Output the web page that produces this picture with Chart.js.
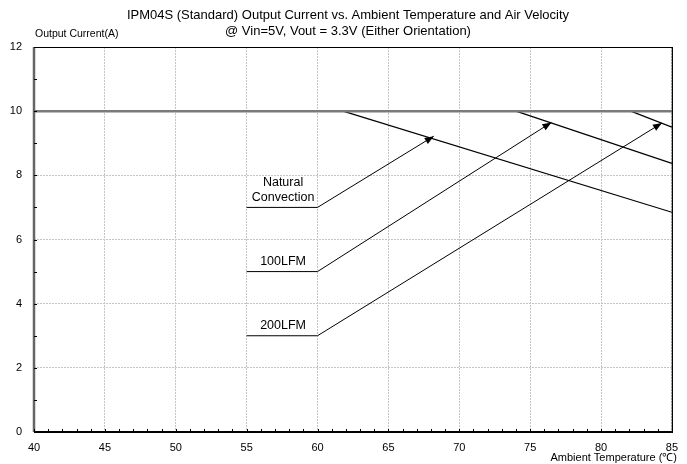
<!DOCTYPE html>
<html>
<head>
<meta charset="utf-8">
<script src="https://cdn.jsdelivr.net/npm/chart.js@4/dist/chart.umd.min.js"></script>
<style>
  html, body { margin: 0; padding: 0; background: #fff; }
  #wrap { width: 687px; height: 464px; }
</style>
</head>
<body>
<div id="wrap"><canvas id="derating"></canvas></div>
<script>
// Chart text
const titleLines = ['IPM04S (Standard) Output Current vs. Ambient Temperature and Air Velocity',
                    '@ Vin=5V, Vout = 3.3V (Either Orientation)'];
const yAxisTitle = 'Output Current(A)';
const xAxisTitle = 'Ambient Temperature (\u2103)';

// Axes
const xTicks = [40, 45, 50, 55, 60, 65, 70, 75, 80, 85];
const yTicks = [0, 2, 4, 6, 8, 10, 12];

// Derating curves (temperature, current)
const limitTemp = [40, 85];
const limitCur = [10, 10];
const natTemp = [61.8, 85];
const natCur = [10, 6.85];
const lfm100Temp = [74, 85];
const lfm100Cur = [10, 8.37];
const lfm200Temp = [82.1, 85];
const lfm200Cur = [10, 9.5];

// Callout leaders: label shelf then arrow to curve
const calloutNames = [['Natural', 'Convection'], ['100LFM'], ['200LFM']];
const calloutTemp = [[55, 60, 68.2], [55, 60, 76.5], [55, 60, 84.3]];
const calloutCur = [[7, 7, 9.22], [5, 5, 9.65], [3, 3, 9.63]];

const pts = (xs, ys) => xs.map((x, i) => ({ x: x, y: ys[i] }));

const FONT = '"Liberation Sans", Arial, sans-serif';

const lineSet = (xs, ys, color, width) => ({
    data: pts(xs, ys),
    showLine: true,
    borderColor: color,
    borderWidth: width,
    pointRadius: 0,
    fill: false
});

const datasets = [
    lineSet(limitTemp, limitCur, '#7a7a7a', 2.5),
    lineSet(natTemp, natCur, '#000', 1.2),
    lineSet(lfm100Temp, lfm100Cur, '#000', 1.2),
    lineSet(lfm200Temp, lfm200Cur, '#000', 1.2)
];
calloutTemp.forEach((t, i) => {
    datasets.push(lineSet(t, calloutCur[i], '#000', 1));
});

// extra drawing: titles, frame, minor ticks, arrowheads, callout labels
const decorations = {
    id: 'decorations',
    afterDatasetsDraw(chart) {
        const ctx = chart.ctx;
        const xs = chart.scales.x, ys = chart.scales.y;
        const a = chart.chartArea;
        ctx.save();

        // frame
        ctx.strokeStyle = '#000';
        ctx.lineWidth = 1.2;
        ctx.beginPath();
        ctx.moveTo(a.left, a.top + 0.5);
        ctx.lineTo(a.right + 0.5, a.top + 0.5);
        ctx.lineTo(a.right + 0.5, a.bottom);
        ctx.stroke();
        ctx.lineWidth = 2;
        ctx.beginPath();
        ctx.moveTo(a.left, a.bottom);
        ctx.lineTo(a.right, a.bottom);
        ctx.stroke();
        ctx.strokeStyle = '#666';
        ctx.lineWidth = 2.5;
        ctx.beginPath();
        ctx.moveTo(a.left, a.top);
        ctx.lineTo(a.left, a.bottom);
        ctx.stroke();

        // minor ticks
        ctx.strokeStyle = '#000';
        ctx.lineWidth = 1;
        for (let t = xTicks[0]; t <= xTicks[xTicks.length - 1]; t++) {
            const px = Math.round(xs.getPixelForValue(t)) + 0.5;
            ctx.beginPath();
            ctx.moveTo(px, a.bottom - 3);
            ctx.lineTo(px, a.bottom + 1);
            ctx.stroke();
        }
        for (let v = yTicks[0]; v <= yTicks[yTicks.length - 1]; v++) {
            const py = Math.round(ys.getPixelForValue(v)) + 0.5;
            ctx.beginPath();
            ctx.moveTo(a.left, py);
            ctx.lineTo(a.left + 3, py);
            ctx.stroke();
        }

        // arrowheads at the end of each callout leader
        ctx.fillStyle = '#000';
        calloutTemp.forEach((t, i) => {
            const n = t.length;
            const x1 = xs.getPixelForValue(t[n - 2]), y1 = ys.getPixelForValue(calloutCur[i][n - 2]);
            const x2 = xs.getPixelForValue(t[n - 1]), y2 = ys.getPixelForValue(calloutCur[i][n - 1]);
            const ang = Math.atan2(y2 - y1, x2 - x1);
            const len = 9, half = 3.5;
            ctx.beginPath();
            ctx.moveTo(x2, y2);
            ctx.lineTo(x2 - len * Math.cos(ang) + half * Math.sin(ang), y2 - len * Math.sin(ang) - half * Math.cos(ang));
            ctx.lineTo(x2 - len * Math.cos(ang) - half * Math.sin(ang), y2 - len * Math.sin(ang) + half * Math.cos(ang));
            ctx.closePath();
            ctx.fill();
        });

        // callout labels
        ctx.font = '12.5px ' + FONT;
        ctx.textAlign = 'center';
        ctx.textBaseline = 'middle';
        calloutNames.forEach((lines, i) => {
            const cx = (xs.getPixelForValue(calloutTemp[i][0]) + xs.getPixelForValue(calloutTemp[i][1])) / 2 + 1;
            const baseY = ys.getPixelForValue(calloutCur[i][0]);
            lines.forEach((s, k) => {
                const y = baseY - 10 - (lines.length - 1 - k) * 15;
                ctx.fillText(s, cx, y);
            });
        });

        // titles
        ctx.fillStyle = '#000';
        ctx.font = '13px ' + FONT;
        ctx.textAlign = 'center';
        ctx.fillText(titleLines[0], 348, 15);
        ctx.fillText(titleLines[1], 348, 31);
        ctx.font = '10.5px ' + FONT;
        ctx.textAlign = 'left';
        ctx.fillText(yAxisTitle, 35, 34);
        ctx.font = '11px ' + FONT;
        ctx.textAlign = 'right';
        ctx.fillText(xAxisTitle, 677, 458);

        ctx.restore();
    }
};

new Chart(document.getElementById('derating'), {
    type: 'scatter',
    data: { datasets: datasets },
    options: {
        responsive: true,
        maintainAspectRatio: false,
        animation: false,
        layout: { padding: { top: 47, right: 15, left: 0, bottom: 0 } },
        plugins: {
            legend: { display: false },
            tooltip: { enabled: false },
            title: { display: false }
        },
        scales: {
            x: {
                type: 'linear',
                min: xTicks[0],
                max: xTicks[xTicks.length - 1],
                afterBuildTicks: s => { s.ticks = xTicks.map(v => ({ value: v })); },
                afterFit: s => { s.height = 32; },
                ticks: {
                    padding: 9,
                    color: '#000',
                    font: { family: FONT, size: 11 },
                    maxRotation: 0,
                    autoSkip: false
                },
                grid: {
                    drawTicks: false,
                    color: '#c4c4c4',
                    lineWidth: 1
                },
                border: { display: false, dash: [2, 1] }
            },
            y: {
                type: 'linear',
                min: yTicks[0],
                max: yTicks[yTicks.length - 1],
                afterBuildTicks: s => { s.ticks = yTicks.map(v => ({ value: v })); },
                afterFit: s => { s.width = 34; },
                ticks: {
                    padding: 12,
                    color: '#000',
                    font: { family: FONT, size: 11 }
                },
                grid: {
                    drawTicks: false,
                    color: '#c4c4c4',
                    lineWidth: 1
                },
                border: { display: false, dash: [2, 1] }
            }
        }
    },
    plugins: [decorations]
});
</script>
</body>
</html>
